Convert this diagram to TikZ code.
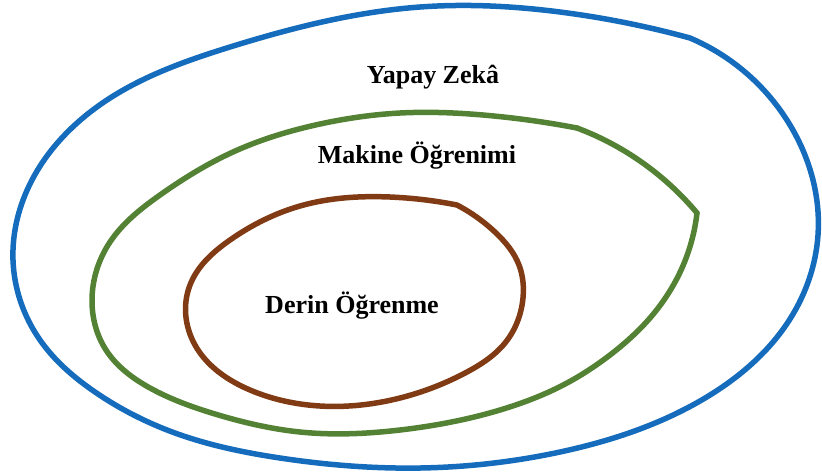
\documentclass[tikz,border=0pt]{standalone}
\usepackage{fontspec}
\setmainfont{Liberation Serif}
\usetikzlibrary{hobby}
\definecolor{aiblue}{RGB}{22,108,188}
\definecolor{mlgreen}{RGB}{84,130,52}
\definecolor{dlbrown}{RGB}{128,58,20}
\tikzset{
  ring/.style={line width=5.5pt, line join=round, line cap=round, use Hobby shortcut},
  lbl/.style={font=\bfseries\fontsize{26}{30}\selectfont, inner sep=0pt, anchor=base}
}
\begin{document}
\begin{tikzpicture}[x=1pt,y=-1pt]
\useasboundingbox (0,0) rectangle (822,475);
% outer blue
\draw[ring, aiblue] (690,38) .. (790,125) .. (818,235) .. (790,319) .. (700,401)
 .. (560,452) .. (420,468) .. (280,458) .. (175,433) .. (95,392) .. (40,340)
 .. (13,260) .. (32,180) .. (107,100) .. (230,47) .. (420,7) .. (560,12) .. (690,38);
% middle green
\draw[ring, mlgreen] (577,128) .. (640,161) .. (697,213);
\draw[ring, mlgreen] (697,213) .. (682,268) .. (650,318) .. (610,355) .. (567,383)
 .. (500,410) .. (400,430) .. (300,432) .. (215,414) .. (150,388) .. (106,350)
 .. (92,300) .. (110,242) .. (160,195) .. (233,152) .. (320,124) .. (400,113)
 .. (483,115) .. (577,128);
% inner brown
\draw[ring, dlbrown] (457,205) .. (496,233) .. (519,265) .. (523,298) .. (505,343)
 .. (467,372) .. (400,398) .. (320,406) .. (250,390) .. (195,345) .. (190,285)
 .. (230,240) .. (300,206) .. (390,197) .. (457,205);
\node[lbl] (ai) at (433,83) {Yapay Zekâ};
\node[lbl] (ml) at (417,163) {Makine Öğrenimi};
\node[lbl] (dl) at (352,313) {Derin Öğrenme};
\end{tikzpicture}
\end{document}
